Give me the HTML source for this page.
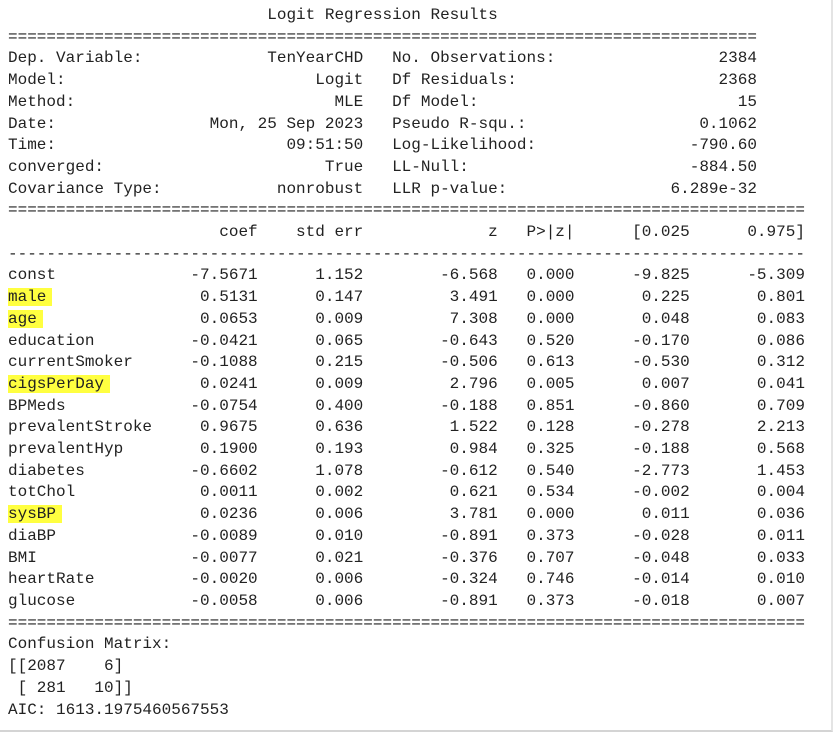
<!DOCTYPE html>
<html><head><meta charset="utf-8">
<style>
html,body{margin:0;padding:0;background:#fff;width:833px;height:739px;overflow:hidden}
#wrap{position:absolute;left:0;top:0;width:831px;height:730px;border-bottom:2px solid #d4d4d4;border-right:2px solid #e4e4e4;background:#fff}
pre{position:absolute;left:8px;top:5px;margin:0;font-family:"Liberation Mono",monospace;font-size:16px;line-height:21.7px;color:#222;white-space:pre}
.hl{background:#ffff40;padding-right:6px;margin-right:-6px}
</style></head><body>
<div id="wrap">
<pre id="out"></pre>
</div>
<script>
const topLeft=[["Dep. Variable:","TenYearCHD"],["Model:","Logit"],["Method:","MLE"],["Date:","Mon, 25 Sep 2023"],["Time:","09:51:50"],["converged:","True"],["Covariance Type:","nonrobust"]];
const topRight=[["No. Observations:","2384"],["Df Residuals:","2368"],["Df Model:","15"],["Pseudo R-squ.:","0.1062"],["Log-Likelihood:","-790.60"],["LL-Null:","-884.50"],["LLR p-value:","6.289e-32"]];
const names=["const","male","age","education","currentSmoker","cigsPerDay","BPMeds","prevalentStroke","prevalentHyp","diabetes","totChol","sysBP","diaBP","BMI","heartRate","glucose"];
const coef=["-7.5671","0.5131","0.0653","-0.0421","-0.1088","0.0241","-0.0754","0.9675","0.1900","-0.6602","0.0011","0.0236","-0.0089","-0.0077","-0.0020","-0.0058"];
const se=["1.152","0.147","0.009","0.065","0.215","0.009","0.400","0.636","0.193","1.078","0.002","0.006","0.010","0.021","0.006","0.006"];
const zv=["-6.568","3.491","7.308","-0.643","-0.506","2.796","-0.188","1.522","0.984","-0.612","0.621","3.781","-0.891","-0.376","-0.324","-0.891"];
const pv=["0.000","0.000","0.000","0.520","0.613","0.005","0.851","0.128","0.325","0.540","0.534","0.000","0.373","0.707","0.746","0.373"];
const lo=["-9.825","0.225","0.048","-0.170","-0.530","0.007","-0.860","-0.278","-0.188","-2.773","-0.002","0.011","-0.028","-0.048","-0.014","-0.018"];
const hi=["-5.309","0.801","0.083","0.086","0.312","0.041","0.709","2.213","0.568","1.453","0.004","0.036","0.011","0.033","0.010","0.007"];
const highlighted=["male","age","cigsPerDay","sysBP"];
const esc=s=>s.replace(/&/g,"&amp;").replace(/</g,"&lt;").replace(/>/g,"&gt;");
const ends=[26,37,51,59,71,83];
function row(first,cells,hlFirst){
  let plain=first;
  cells.forEach((c,i)=>{plain=plain.padEnd(ends[i]-c.length)+c;});
  let rest=plain.slice(first.length);
  let f=hlFirst?'<span class="hl">'+esc(first)+'</span>':esc(first);
  return f+esc(rest);
}
let L=[];
L.push(" ".repeat(27)+"Logit Regression Results");
L.push("=".repeat(78));
for(let i=0;i<topLeft.length;i++){
  let a=topLeft[i][0];a=a.padEnd(37-topLeft[i][1].length)+topLeft[i][1];
  a=a.padEnd(40)+topRight[i][0];a=a.padEnd(78-topRight[i][1].length)+topRight[i][1];
  L.push(esc(a));
}
L.push("=".repeat(83));
L.push(row("",["coef","std err","z","P>|z|","[0.025","0.975]"],false));
L.push("-".repeat(83));
for(let i=0;i<names.length;i++){
  L.push(row(names[i],[coef[i],se[i],zv[i],pv[i],lo[i],hi[i]],highlighted.includes(names[i])));
}
L.push("=".repeat(83));
L.push("Confusion Matrix:");
L.push("[[2087    6]");
L.push(" [ 281   10]]");
L.push("AIC: 1613.1975460567553");
document.getElementById("out").innerHTML=L.join("\n");
</script>
</body></html>
